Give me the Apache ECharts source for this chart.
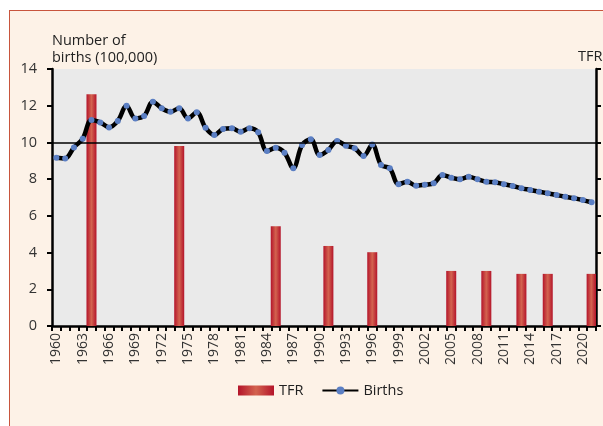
<!DOCTYPE html>
<html>
<head>
<meta charset="utf-8">
<script src="https://cdn.jsdelivr.net/npm/echarts@6/dist/echarts.min.js"></script>
<style>
  html, body { margin: 0; padding: 0; background: #ffffff; }
  .frame {
    position: absolute; left: 9px; top: 10px; width: 600px; height: 420px;
    background: #fdf2e7; border-top: 1.5px solid #c8553d; border-left: 1.5px solid #c8553d;
  }
  #chart { position: absolute; left: 0; top: 0; width: 603px; height: 426px; }
</style>
</head>
<body>
<div class="frame"></div>
<div id="chart"></div>
<script>
  // years on the category axis
  const years = [];
  for (let y = 1960; y <= 2021; y++) years.push(String(y));

  // births, in 100,000
  const births = [
    9.17, 9.13, 9.73, 10.2, 11.22, 11.09, 10.82, 11.17, 12.0, 11.31,
    11.44, 12.22, 11.86, 11.67, 11.86, 11.31, 11.64, 10.8, 10.4, 10.73,
    10.77, 10.58, 10.77, 10.55, 9.53, 9.71, 9.44, 8.59, 9.86, 10.17,
    9.31, 9.59, 10.08, 9.82, 9.68, 9.26, 9.89, 8.77, 8.59, 7.72,
    7.86, 7.64, 7.7, 7.77, 8.22, 8.08, 7.99, 8.13, 7.99, 7.86,
    7.83, 7.72, 7.63, 7.5, 7.41, 7.31, 7.23, 7.13, 7.04, 6.96,
    6.86, 6.74
  ];

  // total fertility rate, only for survey years
  const tfrYears = ['1964', '1974', '1985', '1991', '1996', '2005', '2009', '2013', '2016', '2021'];
  const tfrValues = [6.31, 4.9, 2.72, 2.18, 2.01, 1.5, 1.5, 1.42, 1.42, 1.42];

  const tfr = years.map(y => {
    const i = tfrYears.indexOf(y);
    return i >= 0 ? tfrValues[i] : null;
  });

  const font = '"Open Sans", sans-serif';
  const barColor = new echarts.graphic.LinearGradient(0, 0, 1, 0, [
    { offset: 0, color: '#b4142a' },
    { offset: 0.5, color: '#d3634f' },
    { offset: 1, color: '#b4142a' }
  ]);

  const myChart = echarts.init(document.getElementById('chart'));
  const option = {
    animation: false,
    backgroundColor: 'transparent',
    textStyle: { fontFamily: font },
    title: [
      {
        text: 'Number of\nbirths (100,000)',
        left: 52, top: 32, padding: 0,
        textStyle: { fontFamily: font, fontSize: 14.5, fontWeight: 'normal', color: '#222', lineHeight: 17 }
      },
      {
        text: 'TFR',
        left: 578, top: 49, padding: 0,
        textStyle: { fontFamily: font, fontSize: 14.5, fontWeight: 'normal', color: '#222' }
      }
    ],
    grid: {
      left: 52, right: 7, top: 69, bottom: 100,
      show: true, backgroundColor: '#eaeaea', borderWidth: 0
    },
    legend: {
      left: 233, top: 378,
      itemWidth: 36, itemHeight: 10, itemGap: 18,
      textStyle: { fontFamily: font, fontSize: 14.5, color: '#222' },
      data: [
        { name: 'TFR', icon: 'rect' },
        { name: 'Births' }
      ]
    },
    xAxis: {
      type: 'category',
      data: years,
      boundaryGap: true,
      axisLine: { lineStyle: { color: '#000', width: 2.5 } },
      axisTick: { show: true, interval: 0, length: 5, lineStyle: { color: '#000', width: 2 } },
      axisLabel: {
        interval: 2, rotate: 90, margin: 7,
        fontFamily: font, fontSize: 14, color: '#333'
      },
      splitLine: { show: false }
    },
    yAxis: [
      {
        type: 'value', min: 0, max: 14, interval: 2,
        axisLine: { show: true, lineStyle: { color: '#000', width: 2.5 } },
        axisTick: { show: true, length: 5, lineStyle: { color: '#000', width: 2 } },
        axisLabel: { margin: 15, fontFamily: font, fontSize: 14.5, color: '#333' },
        splitLine: { show: false }
      },
      {
        type: 'value', min: 0, max: 7, interval: 1, position: 'right',
        axisLine: { show: true, lineStyle: { color: '#000', width: 2.5 } },
        axisTick: { show: true, length: 5, lineStyle: { color: '#000', width: 2 } },
        axisLabel: { show: false },
        splitLine: { show: false }
      }
    ],
    series: [
      {
        name: 'TFR',
        type: 'bar',
        yAxisIndex: 1,
        data: tfr,
        barWidth: 10,
        itemStyle: { color: barColor }
      },
      {
        name: 'Births',
        type: 'line',
        data: births,
        smooth: 0.35,
        symbol: 'circle',
        symbolSize: 6,
        showSymbol: true,
        showAllSymbol: true,
        lineStyle: { color: '#000', width: 4.5 },
        itemStyle: { color: '#5b7fc4', borderWidth: 0 },
        markLine: {
          silent: true,
          symbol: 'none',
          label: { show: false },
          lineStyle: { color: '#000', width: 1.5, type: 'solid' },
          data: [{ yAxis: 10 }]
        },
        z: 3
      }
    ]
  };
  option && myChart.setOption(option);
</script>
</body>
</html>
